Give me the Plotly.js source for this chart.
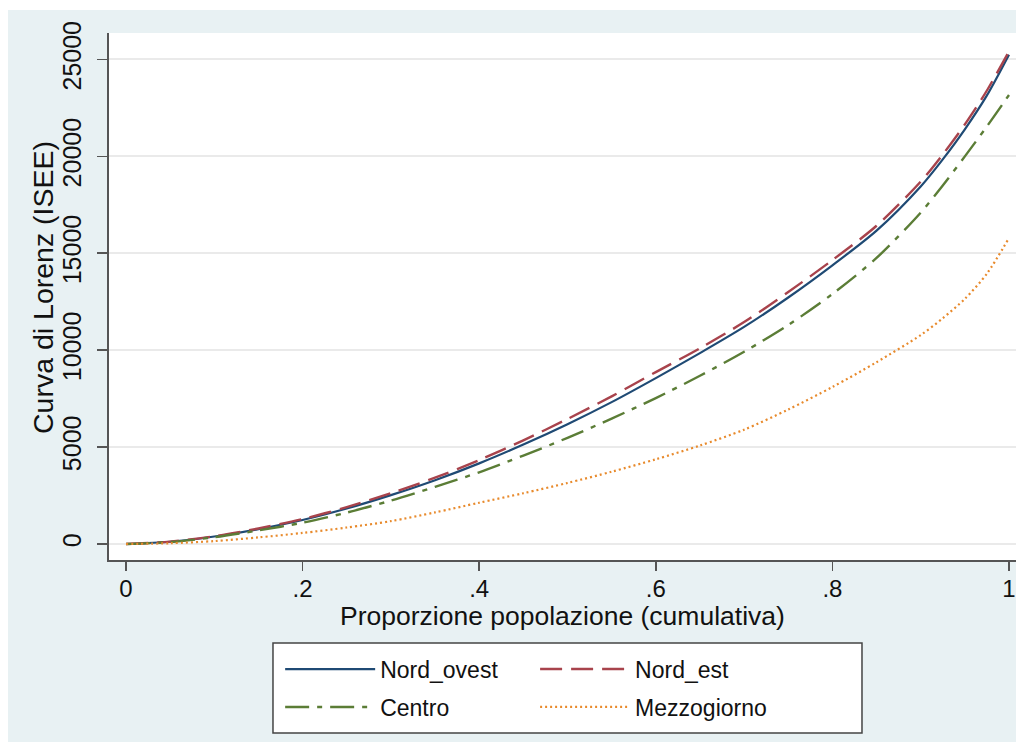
<!DOCTYPE html>
<html>
<head>
<meta charset="utf-8">
<script src="https://cdn.plot.ly/plotly-3.0.1.min.js"></script>
<style>
  html, body { margin: 0; padding: 0; background: #ffffff; }
  #bg { position: absolute; left: 8px; top: 10px; width: 1008px; height: 732px; background: #e8f1f3; }
  #chart { position: absolute; left: 0; top: 0; width: 1016px; height: 742px; }
</style>
</head>
<body>
<div id="bg"></div>
<div id="chart"></div>
<script>
// Cumulative population share
const popShare = [0, 0.05, 0.1, 0.15, 0.2, 0.25, 0.3, 0.35, 0.4, 0.45, 0.5, 0.55, 0.6, 0.65, 0.7, 0.75, 0.8, 0.85, 0.9, 0.925, 0.95, 0.975, 1];
// Generalized Lorenz curve (ISEE) per area
const nordOvest  = [0, 115, 385, 770, 1240, 1830, 2520, 3290, 4160, 5130, 6180, 7320, 8560, 9850, 11200, 12720, 14380, 16170, 18450, 19850, 21400, 23150, 25250];
const nordEst    = [0, 120, 400, 800, 1290, 1900, 2620, 3420, 4330, 5350, 6450, 7620, 8870, 10100, 11450, 13000, 14650, 16420, 18700, 20100, 21650, 23400, 25420];
const centro     = [0, 100, 350, 700, 1100, 1620, 2240, 2950, 3700, 4560, 5480, 6470, 7530, 8680, 9920, 11300, 12900, 14760, 17100, 18500, 20000, 21550, 23170];
const mezzogiorno= [0, 40, 150, 340, 570, 850, 1180, 1630, 2130, 2620, 3150, 3730, 4370, 5080, 5900, 6940, 8100, 9380, 10780, 11650, 12650, 13950, 15790];

const seriesNames = ["Nord_ovest", "Nord_est", "Centro", "Mezzogiorno"];
const xTickVals = [0, 0.2, 0.4, 0.6, 0.8, 1];
const xTickText = ["0", ".2", ".4", ".6", ".8", "1"];
const yTickVals = [0, 5000, 10000, 15000, 20000, 25000];
const yTickText = ["0", "5000", "10000", "15000", "20000", "25000"];
const xTitle = "Proporzione popolazione (cumulativa)";
const yTitle = "Curva di Lorenz (ISEE)";

const FONT = "Liberation Sans, Arial, sans-serif";

const traces = [
  {x: popShare, y: nordOvest, name: seriesNames[0], type: "scatter", mode: "lines", legendgroup: "g1",
   line: {color: "#1f4a74", width: 2.2, dash: "solid", shape: "spline", smoothing: 0.8}, legend: "legend"},
  {x: popShare, y: nordEst, name: seriesNames[1], type: "scatter", mode: "lines", legendgroup: "g2",
   line: {color: "#a8434c", width: 2.4, dash: "22px,9px", shape: "spline", smoothing: 0.8}, legend: "legend2"},
  {x: popShare, y: centro, name: seriesNames[2], type: "scatter", mode: "lines", legendgroup: "g3",
   line: {color: "#5b7d36", width: 2.4, dash: "24px,8px,5px,8px", shape: "spline", smoothing: 0.8}, legend: "legend"},
  {x: popShare, y: mezzogiorno, name: seriesNames[3], type: "scatter", mode: "lines", legendgroup: "g4",
   line: {color: "#e88a2c", width: 2.2, dash: "2px,3px", shape: "spline", smoothing: 0.8}, legend: "legend2"}
];

const legendCommon = {
  orientation: "v", xanchor: "left", yanchor: "top",
  bgcolor: "rgba(0,0,0,0)", borderwidth: 0,
  font: {family: FONT, size: 23, color: "#111"},
  itemwidth: 90, traceorder: "grouped", tracegroupgap: 5
};

const layout = {
  width: 1016, height: 742,
  margin: {l: 109, r: 0, t: 33, b: 182},
  paper_bgcolor: "rgba(0,0,0,0)",
  plot_bgcolor: "#ffffff",
  font: {family: FONT, color: "#111"},
  showlegend: true,
  xaxis: {
    range: [-0.01925, 1.00793], autorange: false,
    tickvals: xTickVals, ticktext: xTickText,
    showgrid: false, zeroline: false,
    showline: true, linecolor: "#555", linewidth: 1.6,
    ticks: "outside", ticklen: 9, tickwidth: 1.6, tickcolor: "#555",
    ticklabelstandoff: -2,
    tickfont: {family: FONT, size: 24, color: "#111"}
  },
  yaxis: {
    range: [-826, 26367], autorange: false,
    tickvals: yTickVals, ticktext: yTickText,
    showgrid: true, gridcolor: "#eaeaea", gridwidth: 2,
    zeroline: false,
    showline: true, linecolor: "#555", linewidth: 1.6,
    ticks: "outside", ticklen: 10, tickwidth: 1.6, tickcolor: "#555",
    tickangle: -90, ticklabelstandoff: 6,
    tickfont: {family: FONT, size: 25, color: "#111"}
  },
  annotations: [
    {text: xTitle, xref: "paper", yref: "paper", x: 0.5, y: -0.1063, xanchor: "center", yanchor: "middle",
     showarrow: false, font: {family: FONT, size: 26.5, color: "#111"}},
    {text: yTitle, xref: "paper", yref: "paper", x: -0.0728, y: 0.518, xanchor: "center", yanchor: "middle",
     textangle: -90, showarrow: false, font: {family: FONT, size: 28.5, color: "#111"}}
  ],
  legend: Object.assign({}, legendCommon, {x: 0.1887, y: -0.1662}),
  legend2: Object.assign({}, legendCommon, {x: 0.4698, y: -0.1662}),
  shapes: [
    {type: "rect", xref: "paper", yref: "paper", x0: 0.1808, x1: 0.8302, y0: -0.3283, y1: -0.1575,
     line: {color: "#444", width: 1.5}, fillcolor: "#ffffff", layer: "below"}
  ]
};

Plotly.newPlot("chart", traces, layout, {displayModeBar: false, staticPlot: true});
</script>
</body>
</html>
